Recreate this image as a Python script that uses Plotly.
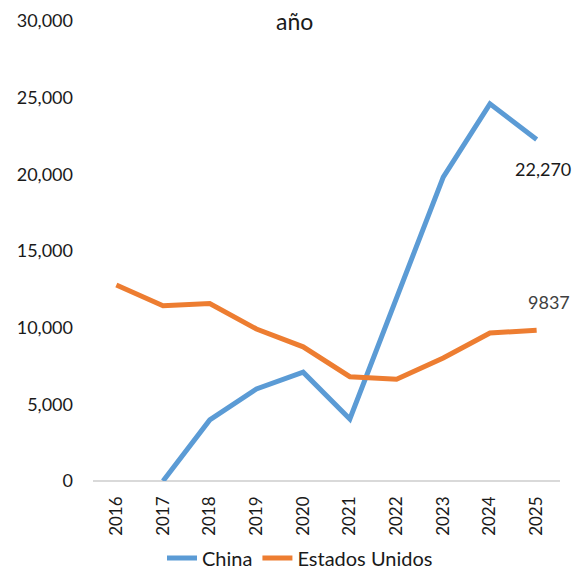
import plotly.graph_objects as go

years = ["2016", "2017", "2018", "2019", "2020", "2021", "2022", "2023", "2024", "2025"]
china = [None, 0, 3980, 6000, 7100, 4050, 12000, 19820, 24600, 22270]
usa = [12780, 11430, 11570, 9910, 8750, 6800, 6630, 8020, 9650, 9837]
y_ticks = [0, 5000, 10000, 15000, 20000, 25000, 30000]
title_text = "año"

FONT = "Lato"
BLUE = "#5B9BD5"
ORANGE = "#ED7D31"

fig = go.Figure()
fig.add_trace(go.Scatter(x=years, y=china, mode="lines", name="China",
                         line=dict(color=BLUE, width=5)))
fig.add_trace(go.Scatter(x=years, y=usa, mode="lines", name="Estados Unidos",
                         line=dict(color=ORANGE, width=5)))

last = len(years) - 1
fig.add_annotation(x=last, y=china[-1], xref="x", yref="y",
                   text=f"{china[-1]:,}", showarrow=False,
                   xshift=6, yshift=-29,
                   font=dict(family=FONT, size=18, color="#1a1a1a"))
fig.add_annotation(x=last, y=usa[-1], xref="x", yref="y",
                   text=f"{usa[-1]}", showarrow=False,
                   xshift=12, yshift=28,
                   font=dict(family=FONT, size=18, color="#404040"))

fig.add_annotation(x=0.4325, y=1.0, xref="paper", yref="paper",
                   text=title_text, showarrow=False,
                   xanchor="center", yanchor="middle",
                   font=dict(family=FONT, size=23, color="#1a1a1a"))

fig.update_layout(
    width=582, height=569,
    margin=dict(l=93, r=22, t=21, b=88, autoexpand=False),
    paper_bgcolor="white", plot_bgcolor="white",
    font=dict(family=FONT, size=18, color="#1a1a1a"),
    showlegend=True,
    legend=dict(orientation="h", x=300 / 582, xanchor="center", xref="container",
                y=1 - 558 / 569, yanchor="middle", yref="container",
                font=dict(family=FONT, size=20, color="#1a1a1a"),
                bgcolor="rgba(0,0,0,0)", itemwidth=30),
)
fig.update_xaxes(type="category", range=[-0.5, len(years) - 0.5],
                 tickangle=-90, showgrid=False,
                 showline=False, zeroline=False, ticks="", automargin=False,
                 tickfont=dict(family=FONT, size=17, color="#1a1a1a"),
                 ticklabelstandoff=11)
fig.update_yaxes(range=[0, 30000], tickvals=y_ticks, tickformat=",",
                 showgrid=False, zeroline=True, zerolinecolor="#d9d9d9",
                 zerolinewidth=2, showline=False, ticks="", automargin=False,
                 tickfont=dict(family=FONT, size=18, color="#1a1a1a"),
                 ticklabelstandoff=19)

fig.write_html("out.html")
